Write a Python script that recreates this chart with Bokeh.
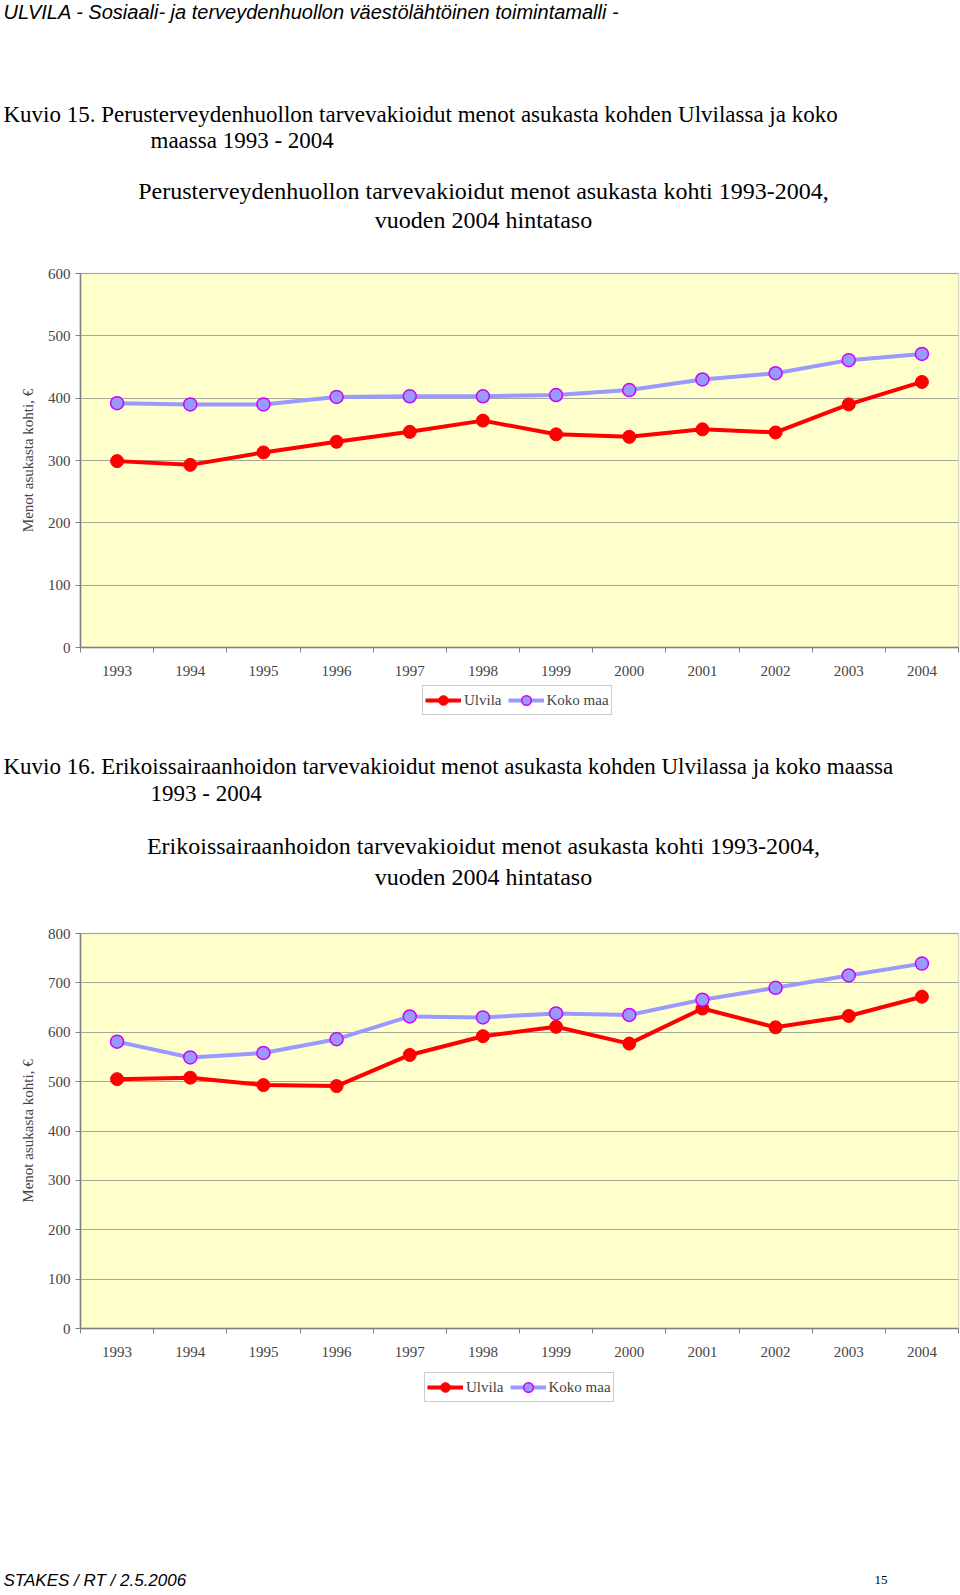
from bokeh.plotting import figure
from bokeh.models import (Range1d, FixedTicker, Legend, LegendItem, ColumnDataSource,
                          LinearAxis, BoxAnnotation)
from bokeh.layouts import column
from bokeh.embed import file_html
from bokeh.resources import INLINE
from bokeh.core.properties import value

# ---------------- data ----------------
years = ["1993", "1994", "1995", "1996", "1997", "1998",
         "1999", "2000", "2001", "2002", "2003", "2004"]

# Kuvio 15: Perusterveydenhuolto
perus_ulvila = [299, 293, 313, 330, 346, 364, 342, 338, 350, 345, 390, 426]
perus_koko_maa = [392, 390, 390, 402, 403, 403, 405, 413, 430, 440, 461, 471]

# Kuvio 16: Erikoissairaanhoito
erik_ulvila = [505, 508, 493, 491, 554, 592, 611, 577, 648, 610, 633, 672]
erik_koko_maa = [581, 549, 558, 586, 632, 630, 638, 635, 666, 690, 715, 739]

series_names = ["Ulvila", "Koko maa"]
y_label = "Menot asukasta kohti, €"

SERIF = "Liberation Serif"
SANS = "Liberation Sans"
W = 960
PLOT_L, PLOT_R = 80, 958   # pixel extent of the yellow plot area


def section(H, top_px, bottom_px, ymax, ul, km, legend_xy, texts):
    n = len(years)
    ux = (PLOT_R - PLOT_L) / n
    uy = (bottom_px - top_px) / ymax

    def X(px):
        return -0.5 + (px - PLOT_L) / ux

    def Y(py):
        return (bottom_px - py) / uy

    p = figure(width=W, height=H, output_backend="svg", toolbar_location=None,
               x_range=Range1d(X(0), X(W)), y_range=Range1d(Y(H), Y(0)),
               x_axis_type=None, y_axis_type=None,
               min_border_left=0, min_border_right=0,
               min_border_top=0, min_border_bottom=0)
    p.outline_line_color = None
    p.background_fill_color = "white"
    p.border_fill_color = "white"

    # yellow plot area with grey border
    p.add_layout(BoxAnnotation(left=-0.5, right=n - 0.5, bottom=0, top=ymax,
                               fill_color="#FFFFCC", fill_alpha=1,
                               line_color="#808080", line_width=1.5, level="image"))

    yticks = list(range(0, ymax + 1, 100))
    # horizontal gridlines (drawn as inward ticks spanning the plot area)
    g = LinearAxis(ticker=FixedTicker(ticks=yticks), fixed_location=-0.5,
                   bounds=(0, ymax), major_tick_in=PLOT_R - PLOT_L, major_tick_out=0,
                   minor_tick_in=0, minor_tick_out=0, major_tick_line_color="#a8a898",
                   major_tick_line_width=1, axis_line_color=None,
                   major_label_text_color=None, level="underlay")
    p.add_layout(g, "left")

    ya = LinearAxis(ticker=FixedTicker(ticks=yticks), fixed_location=-0.5,
                    bounds=(0, ymax), major_tick_out=5, major_tick_in=0,
                    minor_tick_in=0, minor_tick_out=0,
                    major_tick_line_color="#808080", axis_line_color="#808080",
                    axis_line_width=1.5,
                    major_label_text_font=SERIF, major_label_text_font_size="15px",
                    major_label_standoff=5,
                    axis_label=y_label, axis_label_text_font=SERIF,
                    axis_label_text_font_size="15px", axis_label_text_font_style="normal",
                    axis_label_standoff=9)
    p.add_layout(ya, "left")

    xs = list(range(n))
    xa = LinearAxis(ticker=FixedTicker(ticks=xs, minor_ticks=[i - 0.5 for i in range(n + 1)]),
                    fixed_location=0, bounds=(-0.5, n - 0.5),
                    major_label_overrides={i: y for i, y in enumerate(years)},
                    major_tick_out=0, major_tick_in=0, minor_tick_out=5, minor_tick_in=0,
                    minor_tick_line_color="#808080", axis_line_color="#808080",
                    axis_line_width=1.5,
                    major_label_text_font=SERIF, major_label_text_font_size="15px",
                    major_label_standoff=13)
    p.add_layout(xa, "below")

    src = ColumnDataSource(dict(x=xs, ul=ul, km=km))
    r1 = p.line("x", "ul", source=src, line_color="#FF0000", line_width=4)
    r2 = p.scatter("x", "ul", source=src, size=13, fill_color="#FF0000",
                   line_color="#FF0000")
    r3 = p.line("x", "km", source=src, line_color="#9999FF", line_width=4)
    r4 = p.scatter("x", "km", source=src, size=13, fill_color="#9999FF",
                   line_color="#CC00FF", line_width=1.5)

    legend = Legend(items=[LegendItem(label=series_names[0], renderers=[r1, r2]),
                           LegendItem(label=series_names[1], renderers=[r3, r4])],
                    orientation="horizontal", location=legend_xy,
                    border_line_color="#999999", border_line_width=1,
                    background_fill_color="white", background_fill_alpha=1,
                    label_text_font=SERIF, label_text_font_size="15px",
                    glyph_width=36, glyph_height=24, label_standoff=3,
                    spacing=6, padding=2, margin=0)
    p.add_layout(legend)

    for (px, py, txt, size, font, style, align) in texts:
        p.text(x=[X(px)], y=[Y(py)], text=[txt], text_font=value(font),
               text_font_size=value(f"{size}px"), text_font_style=style,
               text_align=align, text_baseline="middle", text_color="black")
    return p


texts_a = [
    (3, 11, "ULVILA - Sosiaali- ja terveydenhuollon väestölähtöinen toimintamalli  -",
     20, SANS, "italic", "left"),
    (3, 114, "Kuvio 15. Perusterveydenhuollon tarvevakioidut menot asukasta kohden Ulvilassa ja koko",
     23, SERIF, "normal", "left"),
    (150, 140, "maassa 1993 - 2004", 23, SERIF, "normal", "left"),
    (483, 190, "Perusterveydenhuollon tarvevakioidut menot asukasta kohti 1993-2004,",
     24, SERIF, "normal", "center"),
    (483, 219, "vuoden 2004 hintataso", 24, SERIF, "normal", "center"),
]
pA = section(728, 273, 647, 600, perus_ulvila, perus_koko_maa, (422, 13), texts_a)

texts_b = [
    (3, 38, "Kuvio 16. Erikoissairaanhoidon tarvevakioidut menot asukasta kohden Ulvilassa ja koko maassa",
     23, SERIF, "normal", "left"),
    (150, 65, "1993 - 2004", 23, SERIF, "normal", "left"),
    (483, 117, "Erikoissairaanhoidon tarvevakioidut menot asukasta kohti 1993-2004,",
     24, SERIF, "normal", "center"),
    (483, 148, "vuoden 2004 hintataso", 24, SERIF, "normal", "center"),
    (3, 852, "STAKES / RT / 2.5.2006", 17, SANS, "italic", "left"),
    (874, 851, "15", 13, SERIF, "normal", "left"),
]
pB = section(864, 205, 600, 800, erik_ulvila, erik_koko_maa, (424, 190), texts_b)

layout = column(pA, pB, spacing=0)
open("out.html", "w").write(file_html(layout, INLINE))
